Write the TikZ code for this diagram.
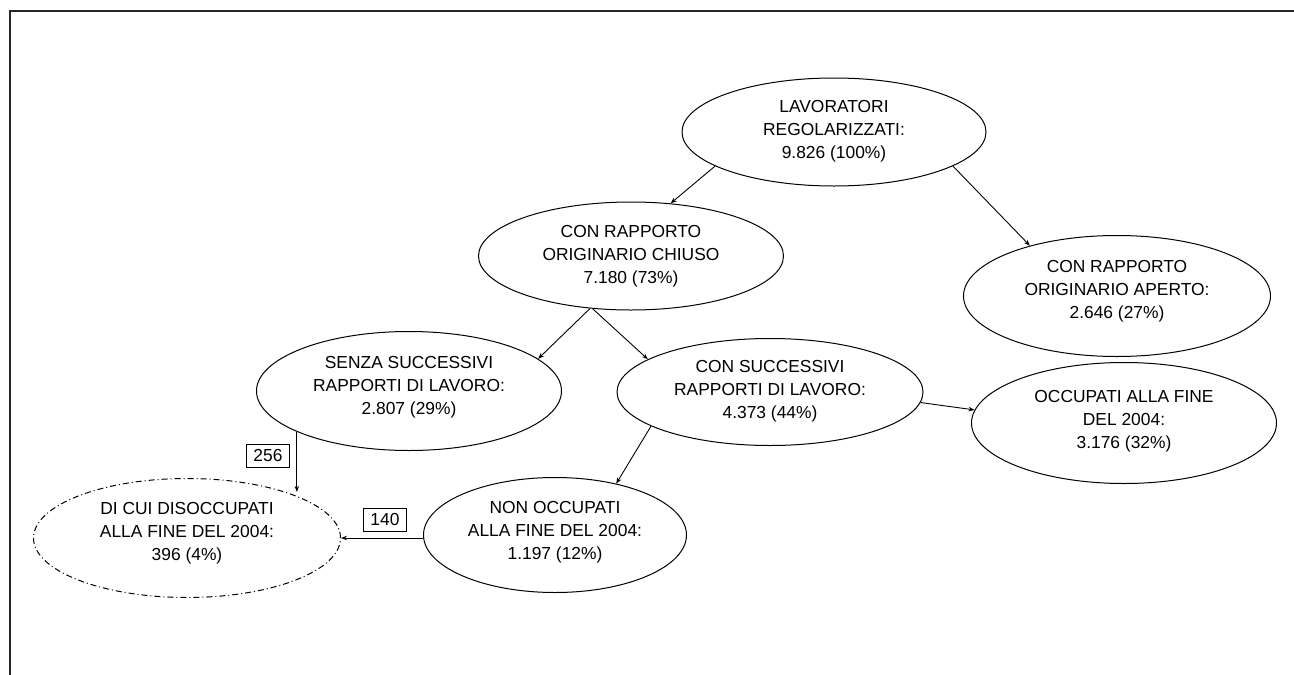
\documentclass[tikz,border=0pt]{standalone}
\usepackage{fontspec}
\setmainfont{Liberation Sans}
\usetikzlibrary{shapes.geometric,arrows.meta}
\begin{document}
\begin{tikzpicture}[x=1pt,y=-1pt,
  oval/.style={draw,ellipse,inner sep=0pt,line width=1pt},
  dashoval/.style={oval,dash pattern=on 6pt off 3pt on 1pt off 3pt},
  lbl/.style={align=center,font=\fontsize{17.4}{23}\selectfont,inner sep=0pt},
  arr/.style={line width=0.9pt,-{Stealth[length=6pt,width=4.5pt]}},
  numbox/.style={draw,line width=0.9pt,minimum width=43pt,minimum height=23pt,inner sep=0pt,font=\fontsize{17.4}{20}\selectfont}]
\useasboundingbox (0,0) rectangle (1294,675);
\draw[line width=2.2pt,black!85] (10,675) -- (10,11) -- (1294,11);

% ellipses
\node[oval,minimum width=304pt,minimum height=108pt] (lav) at (834,132) {};
\node[oval,minimum width=305pt,minimum height=108pt] (chiuso) at (631,256) {};
\node[oval,minimum width=307pt,minimum height=121pt] (aperto) at (1117,296) {};
\node[oval,minimum width=305pt,minimum height=119pt] (senza) at (409,391) {};
\node[oval,minimum width=306pt,minimum height=107pt] (consucc) at (770,392) {};
\node[oval,minimum width=305pt,minimum height=121pt] (occ) at (1124,423) {};
\node[oval,minimum width=263pt,minimum height=115pt] (nonocc) at (555,535) {};
\node[dashoval,minimum width=307pt,minimum height=119pt] (dicui) at (187,538) {};

% texts
\node[lbl] (lavT) at (834,131) {LAVORATORI\\REGOLARIZZATI:\\9.826 (100\%)};
\node[lbl] (chiusoT) at (631,256) {CON RAPPORTO\\ORIGINARIO CHIUSO\\7.180 (73\%)};
\node[lbl] (apertoT) at (1117,291) {CON RAPPORTO\\ORIGINARIO APERTO:\\2.646 (27\%)};
\node[lbl] (senzaT) at (409,387) {SENZA SUCCESSIVI\\RAPPORTI DI LAVORO:\\2.807 (29\%)};
\node[lbl] (consuccT) at (770,391) {CON SUCCESSIVI\\RAPPORTI DI LAVORO:\\4.373 (44\%)};
\node[lbl] (occT) at (1124,421) {OCCUPATI ALLA FINE\\DEL 2004:\\3.176 (32\%)};
\node[lbl] (nonoccT) at (555,532) {NON OCCUPATI\\ALLA FINE DEL 2004:\\1.197 (12\%)};
\node[lbl] (dicuiT) at (187,533) {DI CUI DISOCCUPATI\\ALLA FINE DEL 2004:\\396 (4\%)};

% number boxes
\node[numbox] (b256) at (268,456) {256};
\node[numbox] (b140) at (385,520) {140};

% connectors
\draw[arr] (lav.196.7) -- (chiuso.53.6);
\draw[arr] (lav.344.5) -- (aperto.150.1);
\draw[arr] (chiuso.232.3) -- (senza.14);
\draw[arr] (chiuso.234.4) -- (consucc.165.4);
\draw[arr] (senza.200.6) -- (senza.200.6 |- dicui.25);
\draw[arr] (consucc.196.7) -- (nonocc.40.2);
\draw[arr] (consucc.356.2) -- (occ.175);
\draw[arr] (nonocc.west |- dicui.east) -- (dicui.east);
\end{tikzpicture}
\end{document}
